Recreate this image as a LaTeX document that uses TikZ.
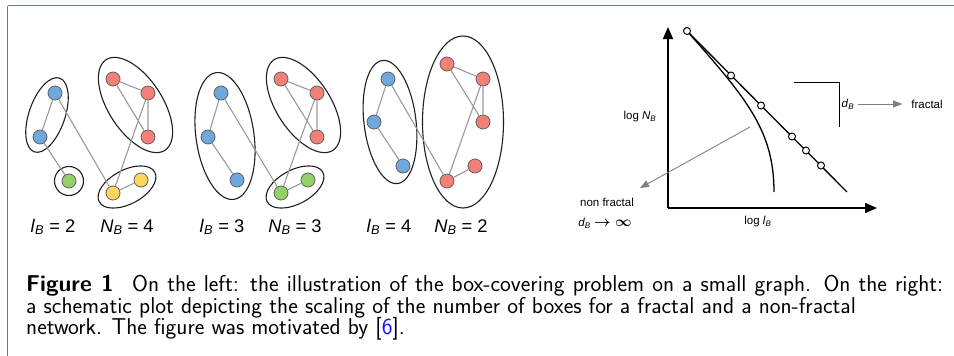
\documentclass[tikz,border=0pt]{standalone}
\usepackage{fontspec}
\newfontfamily\arialf{Liberation Sans}
\usetikzlibrary{arrows.meta}
\definecolor{nblue}{RGB}{111,168,220}
\definecolor{nred}{RGB}{242,128,118}
\definecolor{ngreen}{RGB}{147,208,104}
\definecolor{nyellow}{RGB}{255,214,92}
\definecolor{framec}{RGB}{92,126,166}
\definecolor{linkblue}{RGB}{20,20,255}
\newcommand\subB{\textsubscript{\itshape B}}
\begin{document}
\begin{tikzpicture}[x=1pt,y=-1pt,
  vtx/.style={circle, draw=black!62, line width=0.8pt, minimum size=14pt, inner sep=0pt},
  bl/.style={vtx, fill=nblue},
  rd/.style={vtx, fill=nred},
  gr/.style={vtx, fill=ngreen},
  ye/.style={vtx, fill=nyellow},
  edge/.style={draw=black!40, line width=1.1pt},
  boxe/.style={draw=black!88, line width=1.1pt},
  glbl/.style={font=\arialf\fontsize{18.3}{21}\selectfont, anchor=base, inner sep=0pt},
  plbl/.style={font=\arialf\fontsize{11.5}{14}\selectfont, inner sep=1pt},
  axis/.style={draw=black, line width=1.6pt, -{Triangle[length=12pt,width=10pt]}},
  thin/.style={draw=black, line width=1.3pt},
  oc/.style={circle, draw=black, fill=white, line width=1pt, minimum size=7pt, inner sep=0pt},
  garrow/.style={draw=black!50, line width=0.9pt, -{Triangle[length=9pt,width=7pt]}},
  capt/.style={font=\sffamily\fontsize{22.9}{24}\selectfont, anchor=base west, inner sep=0pt}
]
\useasboundingbox (0,0) rectangle (954,356);
% frame
\coordinate (fr1) at (954,5.5);
\coordinate (fr2) at (7.5,5.5);
\coordinate (fr3) at (7.5,356);
\draw[framec, line width=1.8pt] (fr1) -- (fr2);
\draw[framec, line width=1.2pt] (fr2) -- (fr3);

% ---------- graph 1 ----------
\draw[boxe, rotate around={71:(47,115)}] (47,115) ellipse (39 and 18);
\draw[boxe, rotate around={-57:(135.5,105)}] (135.5,105) ellipse (54 and 27);
\draw[boxe, rotate around={28:(127,187)}] (127,187) ellipse (31.5 and 17);
\draw[boxe] (69,181) circle (14.5);
\node[bl] (a1) at (55,93) {};
\node[bl] (a2) at (40,137) {};
\node[gr] (a3) at (69,181) {};
\node[rd] (a4) at (113,79) {};
\node[rd] (a5) at (148,93) {};
\node[rd] (a6) at (148,137) {};
\node[ye] (a7) at (113,193) {};
\node[ye] (a8) at (141,180) {};
\path[edge] (a1) -- (a2) (a2) -- (a3) (a1) -- (a7) (a4) -- (a5) (a4) -- (a6) (a5) -- (a6) (a5) -- (a7) (a7) -- (a8);
\node[glbl] (la) at (53,232) {\textit{l}\subB\ = 2};
\node[glbl] (na) at (127,232) {\textit{N}\subB\ = 4};

% ---------- graph 2 ----------
\draw[boxe, rotate around={98:(225,136)}] (225,136) ellipse (64 and 29);
\draw[boxe, rotate around={-57:(303.5,105)}] (303.5,105) ellipse (54 and 27);
\draw[boxe, rotate around={28:(295,187)}] (295,187) ellipse (31.5 and 17);
\node[bl] (b1) at (221,93) {};
\node[bl] (b2) at (208,137) {};
\node[bl] (b3) at (237,180) {};
\node[rd] (b4) at (281,79) {};
\node[rd] (b5) at (317,93) {};
\node[rd] (b6) at (317,137) {};
\node[gr] (b7) at (281,193) {};
\node[gr] (b8) at (308,180) {};
\path[edge] (b1) -- (b2) (b2) -- (b3) (b1) -- (b7) (b4) -- (b5) (b4) -- (b6) (b5) -- (b6) (b5) -- (b7) (b7) -- (b8);
\node[glbl] (lb) at (222,232) {\textit{l}\subB\ = 3};
\node[glbl] (nb) at (295,232) {\textit{N}\subB\ = 3};

% ---------- graph 3 ----------
\draw[boxe, rotate around={97:(390,122)}] (390,122) ellipse (62 and 26);
\draw[boxe] (463,122) ellipse (40.5 and 86);
\node[bl] (c1) at (388,79) {};
\node[bl] (c2) at (374,122) {};
\node[bl] (c3) at (403,166) {};
\node[rd] (c4) at (447,64) {};
\node[rd] (c5) at (483,79) {};
\node[rd] (c6) at (483,122) {};
\node[rd] (c7) at (447,181) {};
\node[rd] (c8) at (475,166) {};
\path[edge] (c1) -- (c2) (c2) -- (c3) (c1) -- (c7) (c4) -- (c5) (c4) -- (c6) (c5) -- (c6) (c5) -- (c7) (c7) -- (c8);
\node[glbl] (lc) at (389,232) {\textit{l}\subB\ = 4};
\node[glbl] (nc) at (461,232) {\textit{N}\subB\ = 2};

% ---------- plot ----------
\coordinate (O) at (668,208);
\coordinate (ytip) at (668,27);
\coordinate (xtip) at (877,208);
\draw[axis] (O) -- (ytip);
\draw[axis] (O) -- (xtip);
\coordinate (L0) at (687,31);
\coordinate (L1) at (847,192);
\coordinate (K1) at (774,192);
\draw[thin] (L0) -- (L1);
\draw[thin] (L0) .. controls (746,98) and (774,130) .. (K1);
\node[oc] (p1) at (L0) {};
\node[oc] (p2) at (731,75.5) {};
\node[oc] (p3) at (761,105.5) {};
\node[oc] (p4) at (792,136.5) {};
\node[oc] (p5) at (806,150.5) {};
\node[oc] (p6) at (821,165.5) {};
% bracket
\coordinate (br1) at (794,82);
\coordinate (br2) at (839,82);
\coordinate (br3) at (839,127);
\draw[draw=black, line width=1pt] (br1) -- (br2) -- (br3);
% labels
\node[plbl] (lN) at (640,117) {log \textit{N}\subB};
\node[plbl] (ll) at (758,222) {log \textit{l}\subB};
\node[plbl] (nf) at (607,202) {non fractal};
\node[plbl] (dinf) at (605,223) {\textit{d}\subB\ {\fontsize{14}{14}\selectfont\boldmath$\rightarrow\infty$}};
\node[plbl] (dB) at (848,104) {\textit{d}\subB};
\node[plbl] (fr) at (927,104) {fractal};
\coordinate (g0) at (750,127);
\coordinate (g1) at (640,188);
\draw[garrow] (g0) -- (g1);
\draw[garrow, shorten <=3pt, shorten >=8pt] (dB.east) -- (fr.west);

% ---------- caption ----------
\node[capt] (cap1) at (26,291) {\makebox[917pt][s]{\textbf{Figure 1}\hspace{0.45em} On the left: the illustration of the box-covering problem on a small graph. On the right:}};
\node[capt] (cap2) at (26,313) {a schematic plot depicting the scaling of the number of boxes for a fractal and a non-fractal};
\node[capt] (cap3) at (26,334.5) {network. The figure was motivated by [\textcolor{linkblue}{6}].};
\end{tikzpicture}
\end{document}
